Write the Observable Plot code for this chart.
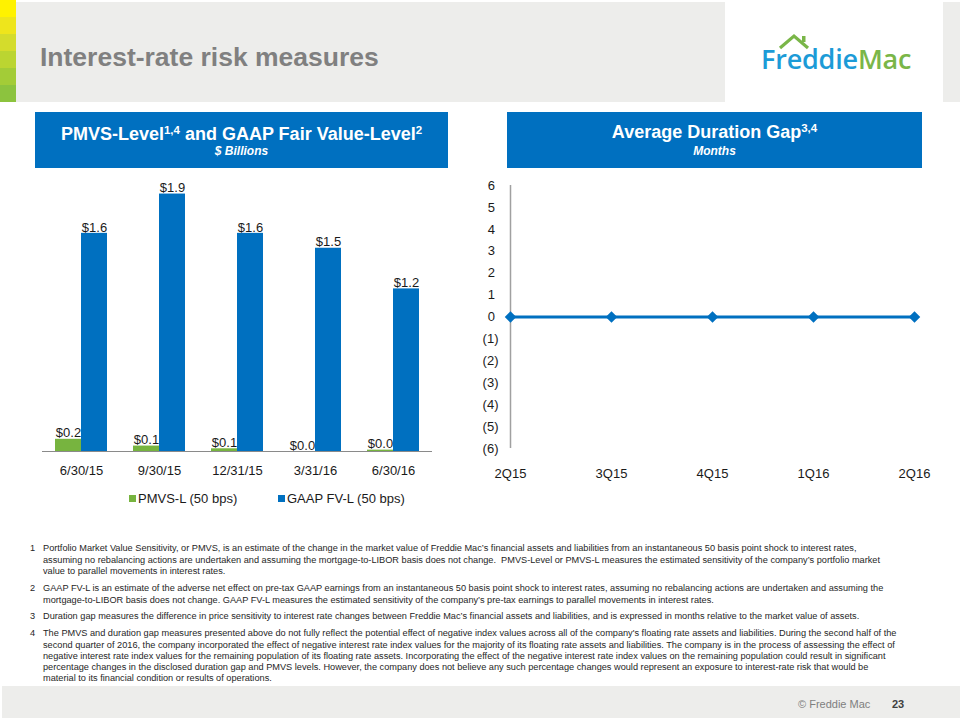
<!DOCTYPE html>
<html>
<head>
<meta charset="utf-8">
<script src="https://cdn.jsdelivr.net/npm/d3@7"></script>
<script src="https://cdn.jsdelivr.net/npm/@observablehq/plot@0.6"></script>
<style>
  html, body { margin: 0; padding: 0; background: #fff; }
  #page { position: relative; width: 960px; height: 720px; overflow: hidden; font-family: "Liberation Sans", Arial, sans-serif; color: #1a1a1a; }
  .abs { position: absolute; }
  .stripe { position: absolute; left: 0; width: 16px; height: 17px; }
  .panel { position: absolute; top: 112px; height: 56px; background: #0070C0; color: #fff; text-align: center; }
  .ptitle { position: absolute; left: 0; right: 0; font-weight: bold; font-size: 18px; line-height: 1; white-space: nowrap; }
  .psub { position: absolute; left: 0; right: 0; top: 32.8px; font-weight: bold; font-style: italic; font-size: 12px; line-height: 1; }
  .sup { font-size: 11.5px; position: relative; top: -6px; }
  .fn { position: absolute; left: 30px; width: 920px; font-size: 9.2px; line-height: 11.2px; color: #262626; white-space: nowrap; }
  .fn .n { position: absolute; left: 0; }
  .fn .t { position: absolute; left: 13px; }
  .legend { position: absolute; top: 491px; font-size: 13px; line-height: 16px; white-space: nowrap; }
  .sw { display: inline-block; width: 7px; height: 7px; margin-right: 2px; vertical-align: 1px; }
</style>
</head>
<body>
<div id="page">
  <!-- header -->
  <div class="abs" style="left:0;top:2px;width:960px;height:100px;background:#EDEDEB;"></div>
  <div class="stripe" style="top:0;background:#FFF200;"></div>
  <div class="stripe" style="top:17px;background:#EEE51C;"></div>
  <div class="stripe" style="top:34px;background:#D4DC2C;"></div>
  <div class="stripe" style="top:51px;background:#BBD531;"></div>
  <div class="stripe" style="top:68px;background:#A3CC37;"></div>
  <div class="stripe" style="top:85px;background:#8CC33E;"></div>
  <div class="abs" style="left:40px;top:43.5px;font-size:26.5px;line-height:1;font-weight:bold;color:#808080;white-space:nowrap;">Interest-rate risk measures</div>
  <div class="abs" style="left:725px;top:2px;width:218px;height:100px;background:#fff;"></div>
  <svg class="abs" style="left:776px;top:32px;" width="40" height="20">
    <polyline points="4,16 18,4 32,16" fill="none" stroke="#7AB648" stroke-width="3.2" stroke-linejoin="miter"/>
    <rect x="26" y="4" width="3.5" height="6" fill="#7AB648"/>
  </svg>
  <div class="abs" style="left:761px;top:45px;font-family:'Open Sans',sans-serif;font-weight:600;font-size:27px;line-height:1;white-space:nowrap;letter-spacing:-0.2px;"><span style="color:#1C9BD7;">Freddie</span><span style="color:#7AB648;">Mac</span></div>

  <!-- panel headers -->
  <div class="panel" style="left:35px;width:413px;">
    <div class="ptitle" style="top:13.3px;">PMVS-Level<span class="sup">1,4</span> and GAAP Fair Value-Level<span class="sup">2</span></div>
    <div class="psub">$ Billions</div>
  </div>
  <div class="panel" style="left:507px;width:415px;">
    <div class="ptitle" style="top:11.1px;">Average Duration Gap<span class="sup">3,4</span></div>
    <div class="psub">Months</div>
  </div>

  <div id="bars" class="abs" style="left:0;top:160px;"></div>
  <div id="line" class="abs" style="left:480px;top:160px;"></div>
  <div id="legend"></div>

  <!-- footnotes -->
  <div class="fn" style="top:543.4px;height:34px;"><span class="n">1</span><div class="t">Portfolio Market Value Sensitivity, or PMVS, is an estimate of the change in the market value of Freddie Mac’s financial assets and liabilities from an instantaneous 50 basis point shock to interest rates,<br>assuming no rebalancing actions are undertaken and assuming the mortgage-to-LIBOR basis does not change.&nbsp; PMVS-Level or PMVS-L measures the estimated sensitivity of the company’s portfolio market<br>value to parallel movements in interest rates.</div></div>
  <div class="fn" style="top:583.4px;height:23px;"><span class="n">2</span><div class="t">GAAP FV-L is an estimate of the adverse net effect on pre-tax GAAP earnings from an instantaneous 50 basis point shock to interest rates, assuming no rebalancing actions are undertaken and assuming the<br>mortgage-to-LIBOR basis does not change. GAAP FV-L measures the estimated sensitivity of the company’s pre-tax earnings to parallel movements in interest rates.</div></div>
  <div class="fn" style="top:611.4px;height:12px;"><span class="n">3</span><div class="t">Duration gap measures the difference in price sensitivity to interest rate changes between Freddie Mac’s financial assets and liabilities, and is expressed in months relative to the market value of assets.</div></div>
  <div class="fn" style="top:628.4px;height:57px;"><span class="n">4</span><div class="t">The PMVS and duration gap measures presented above do not fully reflect the potential effect of negative index values across all of the company's floating rate assets and liabilities. During the second half of the<br>second quarter of 2016, the company incorporated the effect of negative interest rate index values for the majority of its floating rate assets and liabilities. The company is in the process of assessing the effect of<br>negative interest rate index values for the remaining population of its floating rate assets. Incorporating the effect of the negative interest rate index values on the remaining population could result in significant<br>percentage changes in the disclosed duration gap and PMVS levels. However, the company does not believe any such percentage changes would represent an exposure to interest-rate risk that would be<br>material to its financial condition or results of operations.</div></div>

  <!-- footer -->
  <div class="abs" style="left:2px;top:686px;width:958px;height:32px;background:#EDEDEB;"></div>
  <div class="abs" style="left:798px;top:698px;font-size:11px;line-height:12px;color:#7f7f7f;white-space:nowrap;">© Freddie Mac</div>
  <div class="abs" style="left:892px;top:698px;font-size:11px;line-height:12px;color:#404040;font-weight:bold;white-space:nowrap;">23</div>
</div>

<script>
// ---- data ----
const dates = ["6/30/15", "9/30/15", "12/31/15", "3/31/16", "6/30/16"];
const seriesNames = ["PMVS-L (50 bps)", "GAAP FV-L (50 bps)"];
const pmvsValues = [0.09, 0.04, 0.02, 0.0, 0.01];
const gaapValues = [1.61, 1.90, 1.61, 1.50, 1.20];
const pmvsLabels = ["$0.2", "$0.1", "$0.1", "$0.0", "$0.0"];
const gaapLabels = ["$1.6", "$1.9", "$1.6", "$1.5", "$1.2"];

const quarters = ["2Q15", "3Q15", "4Q15", "1Q16", "2Q16"];
const durationGap = [0, 0, 0, 0, 0];
const gapTicks = [6, 5, 4, 3, 2, 1, 0, -1, -2, -3, -4, -5, -6];

const GREEN = "#77B43F";
const BLUE = "#0070C0";

// ---- bar chart ----
const barRows = [];
dates.forEach((d, i) => {
  barRows.push({date: d, series: seriesNames[0], value: pmvsValues[i], label: pmvsLabels[i]});
  barRows.push({date: d, series: seriesNames[1], value: gaapValues[i], label: gaapLabels[i]});
});

const bars = Plot.plot({
  width: 480,
  height: 331,
  marginLeft: 41,
  marginRight: 48,
  marginTop: 20,
  marginBottom: 40,
  style: {fontFamily: "Liberation Sans, Arial, sans-serif", fontSize: "13px", color: "#1a1a1a", background: "transparent"},
  fx: {domain: dates, padding: 0, label: null, axis: "bottom", tickSize: 0, tickPadding: 14},
  x: {domain: seriesNames, paddingInner: 0, paddingOuter: 0.5, axis: null},
  y: {domain: [0, 2], axis: null},
  color: {domain: seriesNames, range: [GREEN, BLUE]},
  marks: [
    Plot.barY(barRows, {fx: "date", x: "series", y: "value", fill: "series"}),
    Plot.ruleY([0], {stroke: "#8a8a8a", strokeWidth: 1.2}),
    Plot.text(barRows, {fx: "date", x: "series", y: "value", text: "label", dy: -6, fontSize: 13, fill: "#1a1a1a"})
  ]
});
document.getElementById("bars").appendChild(bars);

// legend
const legend = document.getElementById("legend");
const legendLeft = [129, 278];
seriesNames.forEach((s, i) => {
  const el = document.createElement("div");
  el.className = "legend";
  el.style.left = legendLeft[i] + "px";
  el.innerHTML = `<span class="sw" style="background:${i === 0 ? GREEN : BLUE}"></span>${s}`;
  legend.appendChild(el);
});

// ---- line chart ----
const lineRows = quarters.map((q, i) => ({q, v: durationGap[i]}));
const line = Plot.plot({
  width: 480,
  height: 328,
  marginLeft: 30,
  marginRight: 46,
  marginTop: 25,
  marginBottom: 40,
  style: {fontFamily: "Liberation Sans, Arial, sans-serif", fontSize: "13px", color: "#1a1a1a", background: "transparent"},
  x: {type: "point", domain: quarters, padding: 0, tickSize: 0, tickPadding: 20, label: null},
  y: {domain: [-6, 6], ticks: gapTicks, tickSize: 0, tickPadding: 12, label: null,
      tickFormat: d => d < 0 ? `(${-d})` : `${d}\u00a0`},
  marks: [
    Plot.ruleX([quarters[0]], {stroke: "#a0a0a0", strokeWidth: 1.5}),
    Plot.line(lineRows, {x: "q", y: "v", stroke: BLUE, strokeWidth: 3}),
    Plot.dot(lineRows, {x: "q", y: "v", symbol: "diamond2", r: 5.2, fill: BLUE, stroke: "none"})
  ]
});
document.getElementById("line").appendChild(line);
</script>
</body>
</html>
